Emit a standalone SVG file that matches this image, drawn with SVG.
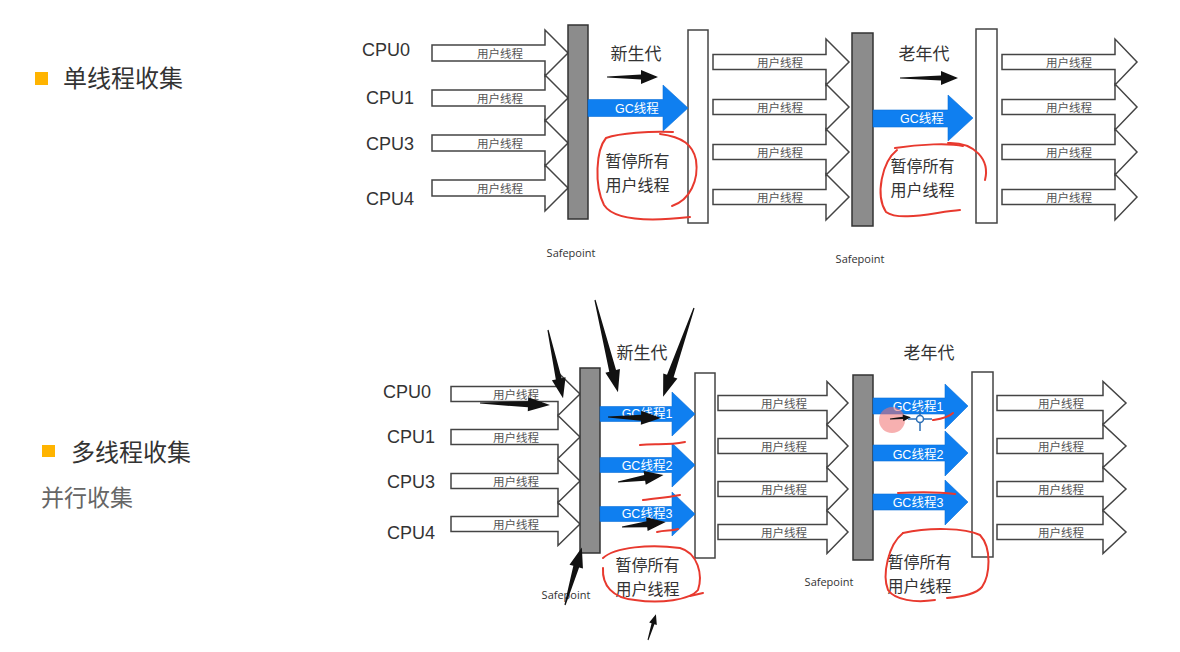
<svg xmlns="http://www.w3.org/2000/svg" width="1180" height="652" viewBox="0 0 1180 652">
<style>
.hol{fill:#fff;stroke:#444;stroke-width:1.5;stroke-linejoin:miter}
.gbar{fill:#8c8c8c;stroke:#333;stroke-width:1.5}
.wbar{fill:#fff;stroke:#444;stroke-width:1.5}
.blue{fill:#0f7ff0;stroke:#0a6fd8;stroke-width:0.6}
.ut{font-family:"Noto Sans CJK SC",sans-serif;font-size:11.5px;fill:#555;text-anchor:middle}
.gct{font-family:"Liberation Sans","Noto Sans CJK SC",sans-serif;font-size:12.5px;fill:#fff;text-anchor:middle}
.cpu{font-family:"Liberation Sans",sans-serif;font-size:18px;fill:#333}
.gen{font-family:"Noto Sans CJK SC",sans-serif;font-size:17px;fill:#333;text-anchor:middle}
.pz{font-family:"Noto Sans CJK SC",sans-serif;font-size:16px;fill:#333;text-anchor:middle}
.sp{font-family:"Open Sans",sans-serif;font-size:11px;fill:#333;text-anchor:middle}
.h1{font-family:"Noto Sans CJK SC",sans-serif;font-size:24px;fill:#333}
.h2{font-family:"Noto Sans CJK SC",sans-serif;font-size:23px;fill:#666}
.blk{fill:#111}
.red{fill:none;stroke:#e8392e;stroke-width:2;stroke-linecap:round;stroke-linejoin:round}
</style>

<g id="title-single">
<rect x="35" y="72" width="13" height="13" fill="#ffb400"/>
<text class="h1" x="63" y="87">单线程收集</text>
</g>
<g id="title-multi">
<rect x="42" y="445" width="13" height="12" fill="#ffb400"/>
<text class="h1" x="71" y="461">多线程收集</text>
<text class="h2" x="41" y="506">并行收集</text>
</g>

<!-- ===== TOP: single-threaded ===== -->
<g id="top-cpu-labels">
<text class="cpu" x="362" y="56">CPU0</text>
<text class="cpu" x="366" y="104">CPU1</text>
<text class="cpu" x="366" y="150">CPU3</text>
<text class="cpu" x="366" y="205">CPU4</text>
</g>

<g id="top-user-threads-1">
<path class="hol" d="M432,45 L545,45 L545,30 L568,53 L545,76 L545,61 L432,61 Z"/>
<path class="hol" d="M432,90 L545,90 L545,75 L568,98 L545,121 L545,106 L432,106 Z"/>
<path class="hol" d="M432,135 L545,135 L545,120 L568,143 L545,166 L545,151 L432,151 Z"/>
<path class="hol" d="M432,180 L545,180 L545,165 L568,188 L545,211 L545,196 L432,196 Z"/>
<text class="ut" x="500" y="58">用户线程</text>
<text class="ut" x="500" y="103">用户线程</text>
<text class="ut" x="500" y="148">用户线程</text>
<text class="ut" x="500" y="193">用户线程</text>
</g>

<g id="top-user-threads-2">
<path class="hol" d="M713,54.5 L826,54.5 L826,39 L849,62 L826,85 L826,69.5 L713,69.5 Z"/>
<path class="hol" d="M713,99.5 L826,99.5 L826,84 L849,107 L826,130 L826,114.5 L713,114.5 Z"/>
<path class="hol" d="M713,144.5 L826,144.5 L826,129 L849,152 L826,175 L826,159.5 L713,159.5 Z"/>
<path class="hol" d="M713,189.5 L826,189.5 L826,174 L849,197 L826,220 L826,204.5 L713,204.5 Z"/>
<text class="ut" x="780" y="67">用户线程</text>
<text class="ut" x="780" y="112">用户线程</text>
<text class="ut" x="780" y="157">用户线程</text>
<text class="ut" x="780" y="202">用户线程</text>
</g>

<g id="top-user-threads-3">
<path class="hol" d="M1002,54.5 L1115,54.5 L1115,39 L1137,62 L1115,85 L1115,69.5 L1002,69.5 Z"/>
<path class="hol" d="M1002,99.5 L1115,99.5 L1115,84 L1137,107 L1115,130 L1115,114.5 L1002,114.5 Z"/>
<path class="hol" d="M1002,144.5 L1115,144.5 L1115,129 L1137,152 L1115,175 L1115,159.5 L1002,159.5 Z"/>
<path class="hol" d="M1002,189.5 L1115,189.5 L1115,174 L1137,197 L1115,220 L1115,204.5 L1002,204.5 Z"/>
<text class="ut" x="1069" y="67">用户线程</text>
<text class="ut" x="1069" y="112">用户线程</text>
<text class="ut" x="1069" y="157">用户线程</text>
<text class="ut" x="1069" y="202">用户线程</text>
</g>

<g id="top-safepoint-1">
<rect class="gbar" x="568" y="25" width="20" height="194"/>
<text class="sp" x="571" y="257">Safepoint</text>
</g>
<g id="top-young-bar">
<rect class="wbar" x="688" y="30" width="20" height="193"/>
</g>
<g id="top-safepoint-2">
<rect class="gbar" x="852" y="33" width="21" height="193"/>
<text class="sp" x="860" y="263">Safepoint</text>
</g>
<g id="top-old-bar">
<rect class="wbar" x="976" y="29" width="21" height="194"/>
</g>

<g id="top-gc-1">
<path class="blue" d="M588,99.5 L663,99.5 L663,85 L688,108 L663,131 L663,116.5 L588,116.5 Z"/>
<text class="gct" x="637" y="112.5">GC线程</text>
</g>
<g id="top-gc-2">
<path class="blue" d="M873,110 L948,110 L948,95 L973,118 L948,141 L948,127 L873,127 Z"/>
<text class="gct" x="922" y="122.5">GC线程</text>
</g>

<g id="top-labels">
<text class="gen" x="636" y="59.5">新生代</text>
<text class="gen" x="924" y="59.5">老年代</text>
<text class="pz" x="637.5" y="167">暂停所有</text>
<text class="pz" x="637.5" y="190.5">用户线程</text>
<text class="pz" x="922.5" y="172">暂停所有</text>
<text class="pz" x="922.5" y="195.5">用户线程</text>
</g>

<!-- ===== BOTTOM: multi-threaded ===== -->
<g id="bot-cpu-labels">
<text class="cpu" x="383" y="398">CPU0</text>
<text class="cpu" x="387" y="443">CPU1</text>
<text class="cpu" x="387" y="488">CPU3</text>
<text class="cpu" x="387" y="539">CPU4</text>
</g>

<g id="bot-user-threads-1">
<path class="hol" d="M451,386.5 L558,386.5 L558,372.5 L580,394 L558,415.5 L558,401.5 L451,401.5 Z"/>
<path class="hol" d="M451,429.5 L558,429.5 L558,415.5 L580,437 L558,458.5 L558,444.5 L451,444.5 Z"/>
<path class="hol" d="M451,473.5 L558,473.5 L558,459.5 L580,481 L558,502.5 L558,488.5 L451,488.5 Z"/>
<path class="hol" d="M451,516.5 L558,516.5 L558,502.5 L580,524 L558,545.5 L558,531.5 L451,531.5 Z"/>
<text class="ut" x="516" y="399">用户线程</text>
<text class="ut" x="516" y="442">用户线程</text>
<text class="ut" x="516" y="486">用户线程</text>
<text class="ut" x="516" y="529">用户线程</text>
</g>

<g id="bot-user-threads-2">
<path class="hol" d="M718,395.5 L827,395.5 L827,381.5 L848,403 L827,424.5 L827,410.5 L718,410.5 Z"/>
<path class="hol" d="M718,438.5 L827,438.5 L827,424.5 L848,446 L827,467.5 L827,453.5 L718,453.5 Z"/>
<path class="hol" d="M718,481.5 L827,481.5 L827,467.5 L848,489 L827,510.5 L827,496.5 L718,496.5 Z"/>
<path class="hol" d="M718,524.5 L827,524.5 L827,510.5 L848,532 L827,553.5 L827,539.5 L718,539.5 Z"/>
<text class="ut" x="784" y="408">用户线程</text>
<text class="ut" x="784" y="451">用户线程</text>
<text class="ut" x="784" y="494">用户线程</text>
<text class="ut" x="784" y="537">用户线程</text>
</g>

<g id="bot-user-threads-3">
<path class="hol" d="M997,395.5 L1103,395.5 L1103,381.5 L1126,403 L1103,424.5 L1103,410.5 L997,410.5 Z"/>
<path class="hol" d="M997,438.5 L1103,438.5 L1103,424.5 L1126,446 L1103,467.5 L1103,453.5 L997,453.5 Z"/>
<path class="hol" d="M997,481.5 L1103,481.5 L1103,467.5 L1126,489 L1103,510.5 L1103,496.5 L997,496.5 Z"/>
<path class="hol" d="M997,524.5 L1103,524.5 L1103,510.5 L1126,532 L1103,553.5 L1103,539.5 L997,539.5 Z"/>
<text class="ut" x="1061" y="408">用户线程</text>
<text class="ut" x="1061" y="451">用户线程</text>
<text class="ut" x="1061" y="494">用户线程</text>
<text class="ut" x="1061" y="537">用户线程</text>
</g>

<g id="bot-safepoint-1">
<rect class="gbar" x="580" y="368" width="20" height="185"/>
<text class="sp" x="566" y="599">Safepoint</text>
</g>
<g id="bot-young-bar">
<rect class="wbar" x="695" y="373" width="20" height="185"/>
</g>
<g id="bot-safepoint-2">
<rect class="gbar" x="853" y="375" width="20" height="185"/>
<text class="sp" x="829" y="586">Safepoint</text>
</g>
<g id="bot-old-bar">
<rect class="wbar" x="972" y="372" width="21" height="185"/>
</g>

<g id="bot-gc-young">
<path class="blue" d="M600,406.5 L672,406.5 L672,392 L695,414 L672,436 L672,421.5 L600,421.5 Z"/>
<path class="blue" d="M600,457.5 L672,457.5 L672,443 L695,465 L672,487 L672,472.5 L600,472.5 Z"/>
<path class="blue" d="M600,506.5 L672,506.5 L672,492 L695,514 L672,536 L672,521.5 L600,521.5 Z"/>
<text class="gct" x="647" y="418" font-size="13">GC线程1</text>
<text class="gct" x="647" y="470" font-size="13">GC线程2</text>
<text class="gct" x="647" y="518" font-size="13">GC线程3</text>
</g>
<g id="bot-gc-old">
<path class="blue" d="M873,398 L945,398 L945,384 L968,406 L945,429 L945,414 L873,414 Z"/>
<path class="blue" d="M873,445 L945,445 L945,431 L968,453 L945,476 L945,461 L873,461 Z"/>
<path class="blue" d="M873,494 L945,494 L945,480 L968,502 L945,525 L945,510 L873,510 Z"/>
<text class="gct" x="918" y="411" font-size="13">GC线程1</text>
<text class="gct" x="918" y="459" font-size="13">GC线程2</text>
<text class="gct" x="918" y="507" font-size="13">GC线程3</text>
</g>

<g id="bot-labels">
<text class="gen" x="642" y="358.5">新生代</text>
<text class="gen" x="929" y="358.5">老年代</text>
<text class="pz" x="647.5" y="571">暂停所有</text>
<text class="pz" x="647.5" y="594.5">用户线程</text>
<text class="pz" x="919.5" y="568">暂停所有</text>
<text class="pz" x="919.5" y="591.5">用户线程</text>
</g>

<!-- annotations: black arrows, red strokes, cursor -->
<g id="connectors">
<g class="blk">
<path transform="translate(607,77)" d="M0,-0.6 L34,-2.5 L34,-7 L51,0 L34,7 L34,2.5 L0,0.6 Z"/>
<path transform="translate(900,78)" d="M0,-0.6 L41,-2.5 L41,-7 L58,0 L41,7 L41,2.5 L0,0.6 Z"/>
<path transform="translate(548,330) rotate(77.6)" d="M0,-0.6 L50,-3 L50,-7 L70,0 L50,7 L50,3 L0,0.6 Z"/>
<path transform="translate(595,300) rotate(76)" d="M0,-0.6 L73,-3.5 L73,-7.5 L95,0 L73,7.5 L73,3.5 L0,0.6 Z"/>
<path transform="translate(694,308) rotate(109.2)" d="M0,-0.6 L72,-3.5 L72,-7.5 L94,0 L72,7.5 L72,3.5 L0,0.6 Z"/>
<path transform="translate(480,403) rotate(1.6)" d="M0,-0.6 L48,-3 L48,-7 L70,0 L48,7 L48,3 L0,0.6 Z"/>
<path transform="translate(608,417) rotate(1.1)" d="M0,-0.6 L33,-3 L33,-7 L53,0 L33,7 L33,3 L0,0.6 Z"/>
<path transform="translate(618,482) rotate(-8.8)" d="M0,-0.6 L27,-3 L27,-7 L46,0 L27,7 L27,3 L0,0.6 Z"/>
<path transform="translate(622,527) rotate(-6.5)" d="M0,-0.6 L25,-3 L25,-7 L44,0 L25,7 L25,3 L0,0.6 Z"/>
<path transform="translate(565,605) rotate(-73.7)" d="M0,-0.6 L40,-3 L40,-7 L60,0 L40,7 L40,3 L0,0.6 Z"/>
<path transform="translate(648,640) rotate(-72.9)" d="M0,-0.5 L17,-1.5 L17,-4 L27,0 L17,4 L17,1.5 L0,0.5 Z"/>
</g>
<g class="red">
<path d="M673,132 C650,131 620,133 606,138 C596,150 594,185 604,205 C615,222 655,221 690,217"/>
<path d="M672,206 C690,200 699,180 696,160 C693,145 683,137 660,134"/>
<path d="M895,148 C920,144 950,143 963,146"/>
<path d="M948,143 C975,142 990,160 985,180"/>
<path d="M897,150 C882,162 875,195 886,212 C900,222 935,212 960,210"/>
<path d="M603,558 C615,547 650,544 680,548 C698,553 703,575 698,590 C690,600 660,604 635,600 C612,598 602,585 603,568"/>
<path d="M690,596 L703,593"/>
<path d="M903,533 C930,527 965,528 980,535 C992,548 990,575 982,587 C975,595 960,597 947,598"/>
<path d="M903,533 C888,545 882,575 888,590 C895,600 915,603 935,600"/>
<path d="M640,445 C655,443 665,446 685,442"/>
<path d="M643,500 C655,498 665,498 680,495"/>
<path d="M657,532 C665,530 672,531 678,529"/>
<path d="M933,420 C940,419 948,418 953,413"/>
<path d="M898,493 C915,492 940,492 955,494"/>
</g>
<circle cx="892" cy="420" r="13" fill="#f07070" opacity="0.55"/>
<path class="blk" transform="translate(890,419) rotate(-5)" d="M0,-0.5 L13,-1.2 L13,-3.5 L21,0 L13,3.5 L13,1.2 L0,0.5 Z"/>
<g stroke="#2d6fb5" stroke-width="1.5" fill="none">
<path d="M908,419 H932 M920,407 V431"/>
<circle cx="920" cy="419" r="3.5" fill="#fff"/>
</g>
</g>
</svg>
